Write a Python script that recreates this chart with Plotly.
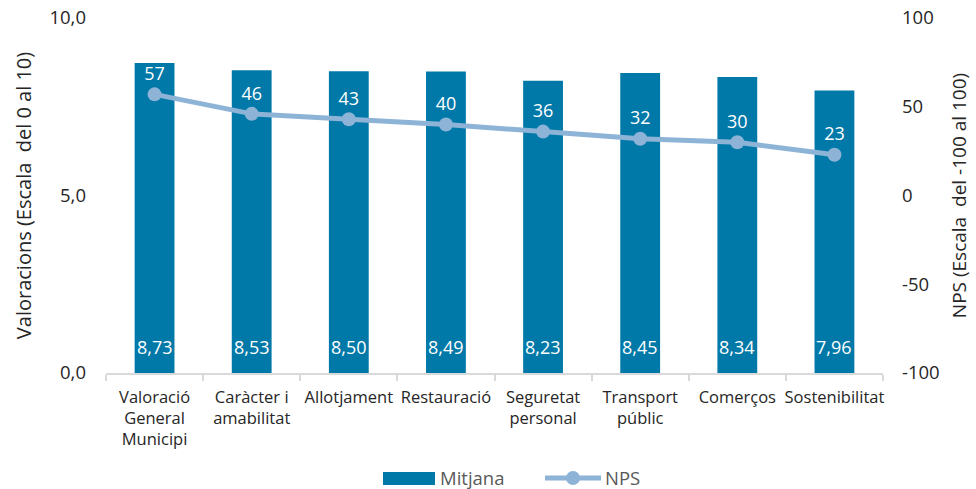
import plotly.graph_objects as go

categories = ["Valoració<br>General<br>Municipi", "Caràcter i<br>amabilitat", "Allotjament", "Restauració",
              "Seguretat<br>personal", "Transport<br>públic", "Comerços", "Sostenibilitat"]
mitjana = [8.73, 8.53, 8.50, 8.49, 8.23, 8.45, 8.34, 7.96]
nps = [57, 46, 43, 40, 36, 32, 30, 23]
y_ticks = [0, 5, 10]
y_ticktext = ["0,0", "5,0", "10,0"]
y2_ticks = [-100, -50, 0, 50, 100]
y2_ticktext = ["-100", "-50", "0", "50", "100"]

FONT = "Open Sans"
BAR_COLOR = "#0078A8"
LINE_COLOR = "#8DB3D6"
TXT = "#262626"

fig = go.Figure()
fig.add_trace(go.Bar(
    x=categories, y=mitjana, name="Mitjana",
    marker=dict(color=BAR_COLOR, line=dict(width=0)),
    width=0.41, showlegend=False,
))
fig.add_trace(go.Scatter(
    x=categories, y=nps, name="NPS", yaxis="y2",
    mode="lines+markers+text",
    line=dict(color=LINE_COLOR, width=5),
    marker=dict(color=LINE_COLOR, size=14),
    text=[str(v) for v in nps], textposition="top center",
    textfont=dict(color="white", size=18, family=FONT),
    showlegend=False,
))
# bar value labels at the base of each bar
for c, v in zip(categories, mitjana):
    fig.add_annotation(x=c, y=0, xref="x", yref="y", text=f"{v:.2f}".replace(".", ","),
                       showarrow=False, yanchor="bottom", yshift=12,
                       font=dict(color="white", size=18, family=FONT))

# custom legend
def px_x(p):
    return (p - 106) / 777
def px_y(p):
    return (373 - p) / 355

fig.add_shape(type="rect", xref="paper", yref="paper", x0=px_x(383), x1=px_x(435),
              y0=px_y(485), y1=px_y(472), fillcolor=BAR_COLOR, line=dict(width=0))
fig.add_annotation(xref="paper", yref="paper", x=px_x(438), y=px_y(477), text="Mitjana",
                   showarrow=False, xanchor="left", yanchor="middle",
                   font=dict(size=18.5, color="#595959", family=FONT))
fig.add_shape(type="line", xref="paper", yref="paper", x0=px_x(545), x1=px_x(601),
              y0=px_y(478), y1=px_y(478), line=dict(color=LINE_COLOR, width=5))
fig.add_shape(type="circle", xref="paper", yref="paper", x0=px_x(566), x1=px_x(580),
              y0=px_y(485), y1=px_y(471), fillcolor=LINE_COLOR, line=dict(width=0))
fig.add_annotation(xref="paper", yref="paper", x=px_x(603), y=px_y(477), text="NPS",
                   showarrow=False, xanchor="left", yanchor="middle",
                   font=dict(size=18.5, color="#595959", family=FONT))

fig.update_layout(
    width=976, height=489,
    margin=dict(l=106, r=93, t=18, b=116),
    plot_bgcolor="white", paper_bgcolor="white",
    separators=",.",
    font=dict(family=FONT, size=16, color=TXT),
    bargap=0.59,
    showlegend=False,
    xaxis=dict(showgrid=False, showline=True, linecolor="#D9D9D9", linewidth=1.5,
               ticks="outside", tickcolor="#D9D9D9", ticklen=6, tickwidth=1.5, tickson="boundaries",
               tickangle=0,
               tickfont=dict(size=16.5, color=TXT), automargin=False, ticklabelstandoff=8),
    yaxis=dict(range=[0, 10], tickvals=y_ticks, ticktext=y_ticktext, showgrid=False,
               zeroline=False, showline=False, automargin=False, ticklabelstandoff=19,
               title=dict(text="Valoracions (Escala  del 0 al 10)", font=dict(size=20, color=TXT), standoff=12),
               tickfont=dict(size=18.5, color=TXT)),
    yaxis2=dict(range=[-100, 100], tickvals=y2_ticks, ticktext=y2_ticktext, overlaying="y", side="right",
                showgrid=False, zeroline=False, showline=False, automargin=False, ticklabelstandoff=18,
                title=dict(text="NPS (Escala  del -100 al 100)", font=dict(size=19, color=TXT), standoff=14),
                tickfont=dict(size=18.5, color=TXT)),
)
fig.write_html("out.html", config={"displayModeBar": False},
               post_script="document.body.style.margin='0';document.body.style.overflow='hidden';")
